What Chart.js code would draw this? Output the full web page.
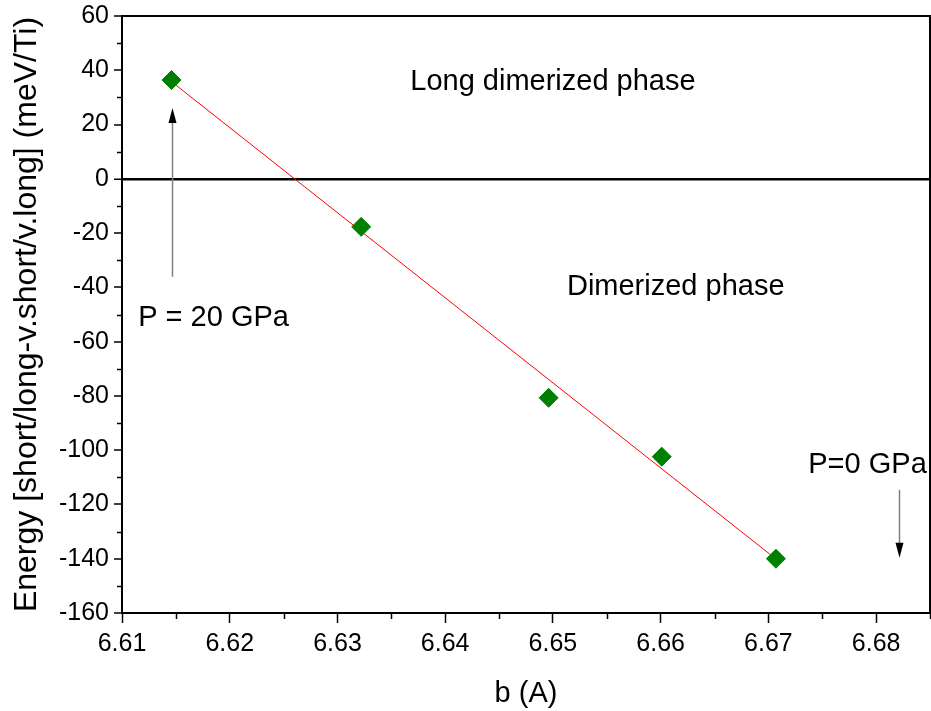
<!DOCTYPE html>
<html>
<head>
<meta charset="utf-8">
<script src="https://cdn.jsdelivr.net/npm/chart.js@4.4.1/dist/chart.umd.min.js"></script>
<style>
  html, body { margin: 0; padding: 0; background: #fff; }
  #wrap { width: 931px; height: 711px; }
</style>
</head>
<body>
<div id="wrap"><canvas id="energiaChart"></canvas></div>
<script>
// valori
const parametroB = [6.6146, 6.6322, 6.6496, 6.6601, 6.6707];
const energia = [36.4, -17.7, -80.7, -102.4, -140.0];

// retta di fit (estremi)
const fitB = [6.6146, 6.6707];
const fitEnergia = [35.8, -140.1];

const FONT = "'Liberation Sans', Arial, sans-serif";

// testi e frecce sul grafico (coordinate nei valori degli assi)
const etichette = [
    { testo: 'Long dimerized phase', x: 6.6500, y: 35.7 },
    { testo: 'Dimerized phase', x: 6.6614, y: -39.8 },
    { testo: 'P = 20 GPa', x: 6.6185, y: -51.2 },
    { testo: 'P=0 GPa', x: 6.6792, y: -105.4 }
];
const frecce = [
    { x: 6.6146, da: -36.1, a: 26.1 },
    { x: 6.6821, da: -114.6, a: -139.6 }
];

const isMaggiore = (v, passo) => Math.abs(Math.round(v / passo) * passo - v) < 1e-7;

const decorazioni = {
    id: 'decorazioni',
    afterDraw(chart) {
        const c = chart.ctx;
        const xs = chart.scales.x, ys = chart.scales.y;
        const area = chart.chartArea;
        c.save();
        // cornice sopra e a destra
        c.strokeStyle = '#000';
        c.lineWidth = 2;
        c.beginPath();
        c.moveTo(area.left, area.top);
        c.lineTo(area.right, area.top);
        c.lineTo(area.right, area.bottom);
        c.stroke();

        // tacche minori
        c.lineWidth = 1.5;
        ys.ticks.forEach(t => {
            if (!isMaggiore(t.value, 20)) {
                const py = Math.round(ys.getPixelForValue(t.value)) + 0.5;
                c.beginPath();
                c.moveTo(area.left - 5, py);
                c.lineTo(area.left, py);
                c.stroke();
            }
        });
        xs.ticks.forEach(t => {
            if (!isMaggiore(t.value, 0.01)) {
                const px = Math.round(xs.getPixelForValue(t.value)) + 0.5;
                c.beginPath();
                c.moveTo(px, area.bottom);
                c.lineTo(px, area.bottom + 6);
                c.stroke();
            }
        });

        // frecce
        frecce.forEach(f => {
            const px = Math.round(xs.getPixelForValue(f.x)) + 0.5;
            const y0 = ys.getPixelForValue(f.da);
            const y1 = ys.getPixelForValue(f.a);
            const dir = y1 < y0 ? 1 : -1;
            c.strokeStyle = '#808080';
            c.lineWidth = 1.5;
            c.beginPath();
            c.moveTo(px, y0);
            c.lineTo(px, y1 + dir * 14);
            c.stroke();
            c.fillStyle = '#000';
            c.beginPath();
            c.moveTo(px, y1);
            c.lineTo(px - 4, y1 + dir * 15);
            c.lineTo(px + 4, y1 + dir * 15);
            c.closePath();
            c.fill();
        });

        // testi
        c.fillStyle = '#000';
        c.font = '29px ' + FONT;
        c.textAlign = 'center';
        c.textBaseline = 'middle';
        etichette.forEach(e => {
            c.fillText(e.testo, xs.getPixelForValue(e.x), ys.getPixelForValue(e.y));
        });
        c.restore();
    }
};

const ctx = document.getElementById('energiaChart').getContext('2d');
const energiaChart = new Chart(ctx, {
    type: 'scatter',
    data: {
        datasets: [
            {
                label: 'Energia',
                data: parametroB.map((b, i) => ({ x: b, y: energia[i] })),
                backgroundColor: '#008000',
                borderColor: '#008000',
                borderWidth: 1,
                pointStyle: 'rectRot',
                pointRadius: 9.5,
                showLine: false,
                order: 1
            },
            {
                label: 'Fit',
                data: fitB.map((b, i) => ({ x: b, y: fitEnergia[i] })),
                borderColor: '#ff0000',
                borderWidth: 1,
                pointRadius: 0,
                showLine: true,
                order: 2
            }
        ]
    },
    options: {
        responsive: true,
        maintainAspectRatio: false,
        animation: false,
        layout: { autoPadding: false, padding: { top: 16, right: 1, left: 0, bottom: 0 } },
        plugins: {
            legend: { display: false },
            tooltip: { enabled: false }
        },
        scales: {
            x: {
                type: 'linear',
                min: 6.61,
                max: 6.685,
                afterFit: s => { s.height = 98; s.paddingRight = 0; s.paddingLeft = 0; },
                border: { color: '#000', width: 2 },
                grid: {
                    display: true,
                    drawOnChartArea: false,
                    tickLength: 10,
                    tickWidth: 1.5,
                    tickColor: c => isMaggiore(c.tick.value, 0.01) ? '#000' : 'rgba(0,0,0,0)'
                },
                ticks: {
                    stepSize: 0.005,
                    autoSkip: false,
                    maxRotation: 0,
                    color: '#000',
                    padding: 6,
                    font: { family: FONT, size: 25 },
                    callback: v => isMaggiore(v, 0.01) ? v.toFixed(2) : ''
                },
                title: {
                    display: true,
                    text: 'b (A)',
                    color: '#000',
                    font: { family: FONT, size: 29 },
                    padding: { top: 10, bottom: 0 }
                }
            },
            y: {
                type: 'linear',
                min: -160,
                max: 60,
                afterFit: s => { s.width = 122; s.paddingTop = 0; s.paddingBottom = 0; },
                border: { color: '#000', width: 2 },
                grid: {
                    drawOnChartArea: true,
                    color: c => c.tick && c.tick.value === 0 ? '#000' : 'rgba(0,0,0,0)',
                    lineWidth: c => c.tick && c.tick.value === 0 ? 2.5 : 0,
                    tickLength: 8,
                    tickWidth: 1.5,
                    tickColor: c => isMaggiore(c.tick.value, 20) ? '#000' : 'rgba(0,0,0,0)'
                },
                ticks: {
                    stepSize: 10,
                    autoSkip: false,
                    color: '#000',
                    padding: 5,
                    font: { family: FONT, size: 25 },
                    callback: v => isMaggiore(v, 20) ? v : ''
                },
                title: {
                    display: true,
                    text: 'Energy [short/long-v.short/v.long] (meV/Ti)',
                    color: '#000',
                    font: { family: FONT, size: 32 },
                    padding: { top: 8, bottom: 0 }
                }
            }
        }
    },
    plugins: [decorazioni]
});
</script>
</body>
</html>
